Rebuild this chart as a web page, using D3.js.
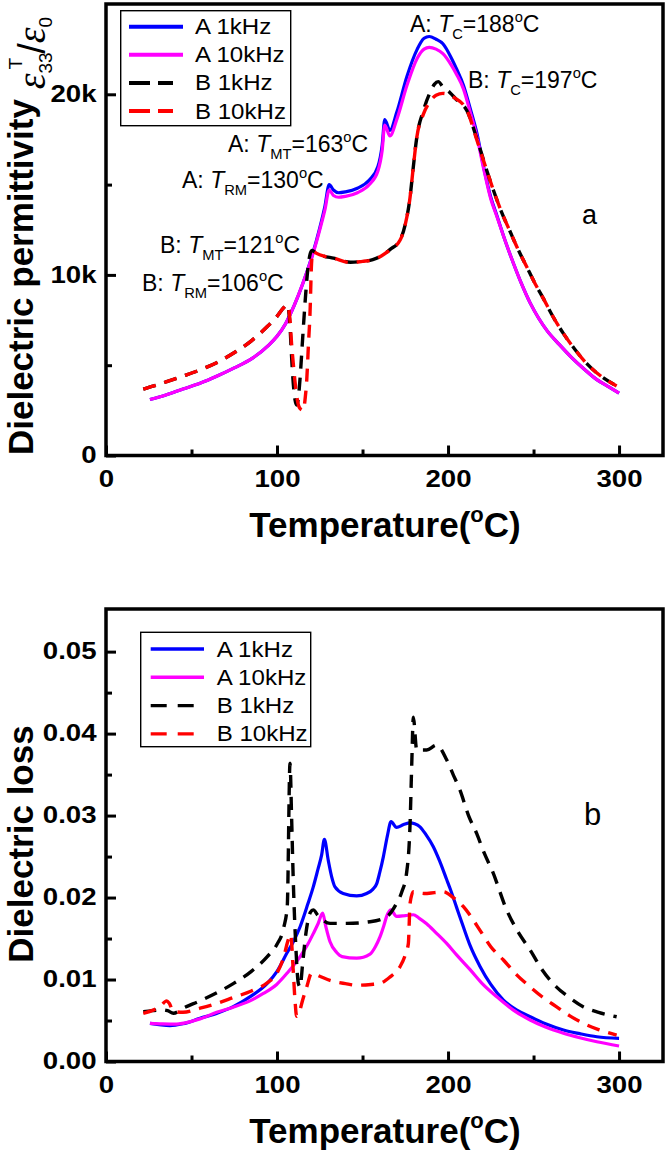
<!DOCTYPE html>
<html><head><meta charset="utf-8">
<script src="https://cdn.jsdelivr.net/npm/d3@7"></script>
<style>
body{margin:0;background:#fff}
svg{display:block}
text{font-family:"Liberation Sans",Arial,Helvetica,sans-serif;fill:#000}
</style>
</head><body>
<svg id="c" width="667" height="1152"></svg>
<script>
// ---------------- DATA ----------------
const seriesNames = ["A 1kHz", "A 10kHz", "B 1kHz", "B 10kHz"];
const xTicks = [0, 100, 200, 300];
const xMinorTicks = [50, 150, 250];
const permTicks = [0, 10000, 20000];
const permMinorTicks = [5000, 15000];
const lossTicks = [0.00, 0.01, 0.02, 0.03, 0.04, 0.05];
const lossMinorTicks = [0.005, 0.015, 0.025, 0.035, 0.045];

// (a) dielectric permittivity
const permT_A = [25.7,35,45,55,65,75,85,95,100,105,110,115,120,125,128,130.5,133,136,140,147,154,159,161.5,163,166,170,176,182,186,189,193,197,202,205,209,213,217,221,225,228.5,233,238,243,248,253,258,265,272,280,287,294,300];
const permA1k = [3100,3350,3680,4000,4400,4850,5350,6100,6600,7300,8300,9500,10900,12600,13800,15000,14700,14550,14600,14800,15250,16000,17200,18600,18000,19000,21000,22500,23100,23200,23050,22800,22000,21400,20500,19200,17800,15900,14300,13300,12000,10700,9500,8450,7600,6900,6150,5450,4750,4200,3800,3450];
const permA10k = [3100,3350,3680,4000,4400,4850,5350,6100,6600,7300,8300,9500,10850,12500,13600,14700,14400,14300,14350,14550,15000,15750,16900,18300,17700,18600,20500,22000,22500,22600,22500,22250,21600,21100,20300,19000,17600,15800,14200,13250,12000,10700,9500,8450,7600,6900,6150,5450,4750,4200,3800,3450];
const permT_B1k = [21.8,28,35.5,45,55,65,74.4,85,94.3,100,104,106,107.5,108.5,109.5,110.5,111.5,112.5,113.5,115,116.5,118,119.5,120.5,123,127,133,143,150,156,161,166,172,175,177.8,179.5,181.7,185.6,189.5,192,194.3,197,201,205,211,217,222.6,226.5,231,236.3,241,246,251,255.7,261,267.5,274,281,290,298.6];
const permB1k = [3670,3850,4090,4400,4740,5150,5660,6350,7140,7700,8200,8350,7300,5500,4000,3100,2800,3200,4300,6500,8600,10300,11200,11350,11200,11050,10930,10700,10750,10850,11050,11400,11950,12800,14300,15800,17600,19100,20100,20550,20700,20400,20100,19700,19100,17500,15800,14700,13550,12400,11400,10450,9500,8700,7750,6750,5900,5100,4350,3850];
const permT_B10k = [21.8,28,35.5,45,55,65,74.4,85,94.3,100,104,106,107.6,108.5,109.5,110.5,111.5,112.5,113.5,115.4,116.5,117.4,118.3,119.3,120.2,121,123,127,133,143,150,156,161,166,172,175,177.8,179.5,181.7,185.6,189.5,193,197,203,210.9,216.8,222.6,226.5,231,236.3,241,246,251,255.7,261,267.5,274,281,290,298.6];
const permB10k = [3670,3850,4090,4400,4740,5150,5660,6350,7140,7700,8200,8340,7500,6200,5100,4100,3300,2800,2600,2500,3200,4200,6000,7900,10650,11300,11200,11050,10930,10680,10750,10830,11050,11380,11930,12800,14300,15800,17600,18900,19600,19950,20050,19850,19140,17480,15800,14700,13550,12400,11400,10450,9500,8700,7750,6750,5900,5100,4350,3850];

// (b) dielectric loss
const lossT_A1k = [25.7,31,37.4,45,55,65,74.4,85,94.3,100,105.7,110,113.5,118,121.2,124,126.1,127.7,130,132,133.9,138.7,146.6,152.4,156,158.3,160,162.2,164.5,166.7,169.9,174,177.8,180.5,183.6,187,191.4,195,199.2,201.2,205,209,213,218.7,225,232.4,240,248,257,267.5,277,287,300];
const lossA1k = [0.00466,0.0045,0.00437,0.0046,0.00527,0.0059,0.00669,0.008,0.00953,0.011,0.0132,0.0148,0.01644,0.0192,0.0213,0.0235,0.0252,0.0271,0.0245,0.0225,0.0213,0.0205,0.0202,0.0205,0.021,0.0217,0.023,0.025,0.0275,0.02925,0.02856,0.0289,0.02912,0.029,0.02863,0.0277,0.0262,0.0245,0.0222,0.0211,0.0188,0.0164,0.0141,0.0116,0.0094,0.0075,0.0063,0.00546,0.0046,0.00384,0.0034,0.00302,0.00283];
const lossT_A10k = [25.7,33,41.3,50,55,64.7,74,84.2,92,99.8,106,113.5,118,121.2,124,126.7,128.5,131,134.9,138,146.6,154.4,157.5,160.2,162.5,164.1,166.5,169.9,175,179.7,183,187.5,193,199.2,205,212.9,220,228.5,238,248,257,267.5,277,287,300];
const lossA10k = [0.00466,0.0046,0.00457,0.0049,0.0052,0.006,0.0066,0.0074,0.0083,0.0094,0.0108,0.0128,0.0143,0.0156,0.0168,0.0181,0.0165,0.0146,0.0133,0.0128,0.0126,0.0131,0.014,0.0152,0.0166,0.0177,0.0185,0.0177,0.0178,0.0179,0.0175,0.0168,0.0157,0.0144,0.013,0.0112,0.0095,0.0079,0.0063,0.00506,0.0042,0.00344,0.0029,0.00241,0.00189];
const lossT_B1k = [21.8,27,33.5,36,39.4,45,55,65,74.4,85,94.3,100,104,106,107.6,108.5,109.5,111,112.5,113.5,115,117,119.5,121.2,124,131,140.8,154.4,164.1,169.9,173,175.7,177.8,178.8,179.7,181.7,187.5,193.3,199.2,203,207,212,216.8,221,226,234.3,241,248,255,263.3,271,279,288,298.6];
const lossB1k = [0.00607,0.0062,0.0063,0.0062,0.00588,0.0065,0.0074,0.0084,0.0095,0.011,0.0128,0.0143,0.0164,0.019,0.0364,0.03,0.0221,0.014,0.0095,0.0091,0.012,0.0158,0.0182,0.0185,0.0178,0.01685,0.01685,0.01705,0.01766,0.0193,0.0207,0.0229,0.029,0.0364,0.042,0.038,0.038,0.0386,0.0368,0.035,0.0331,0.03,0.0278,0.0255,0.0232,0.01848,0.0158,0.0136,0.0112,0.0091,0.0078,0.00669,0.006,0.00546];
const lossT_B10k = [21.8,28,31.6,35.5,37,39.4,45,55,65,74.4,85,94.3,100,104,106.5,108,109.5,110.5,111.5,113,115,117.4,120.2,125,131,140,146.6,155,160.2,166,171.9,175,176.8,177.8,179.7,186,192,197.2,203,209,214,218.7,225,232.4,240,248,255,263.3,271,279,288,298.6];
const lossB10k = [0.00588,0.0063,0.0067,0.0074,0.0071,0.0061,0.006,0.0065,0.0071,0.0078,0.0086,0.0096,0.0108,0.0128,0.0148,0.0155,0.011,0.0075,0.0055,0.006,0.0075,0.0091,0.01076,0.0104,0.0099,0.0095,0.0093,0.0094,0.00953,0.0103,0.01156,0.013,0.0144,0.0193,0.0207,0.0205,0.0206,0.0207,0.02,0.01888,0.0175,0.016,0.014,0.01238,0.0106,0.0091,0.0079,0.00669,0.0056,0.00466,0.0039,0.00323];

// ---------------- DRAWING ----------------
const svg = d3.select("#c");
const colors = ["#0000ff", "#ff00ff", "#000000", "#ff0000"];
const dashes = [null, null, "13,9", "13,9"];
const TICK_FS = 23, TICK_SX = 1.2;

function zip(xs, ys){ return xs.map((x,i)=>[x, ys[i]]); }

function panel(cfg){
  const g = svg.append("g");
  const x = d3.scaleLinear().domain([0, 325.7]).range([106, 663]);
  const y = d3.scaleLinear().domain(cfg.yDomain).range([cfg.bottom, cfg.top]);

  const xa = g.append("g").attr("transform", `translate(0,${cfg.bottom})`)
    .call(d3.axisBottom(x).tickValues(xTicks).tickSize(-10).tickPadding(15).tickFormat(d3.format("d")));
  const xm = g.append("g").attr("transform", `translate(0,${cfg.bottom})`)
    .call(d3.axisBottom(x).tickValues(xMinorTicks).tickSize(-6).tickFormat(""));
  const ya = g.append("g").attr("transform", `translate(106,0)`)
    .call(d3.axisLeft(y).tickValues(cfg.yTicks).tickSize(-10).tickPadding(9.5/TICK_SX).tickFormat(cfg.fmt));
  const ym = g.append("g").attr("transform", `translate(106,0)`)
    .call(d3.axisLeft(y).tickValues(cfg.yMinor).tickSize(-6).tickFormat(""));
  [xa,xm,ya,ym].forEach(a=>{
    a.select(".domain").remove();
    a.selectAll(".tick line").attr("stroke","#000").attr("stroke-width",3);
    a.selectAll("text").attr("font-size",TICK_FS).attr("font-weight","bold")
      .attr("font-family",'"Liberation Sans",Arial,sans-serif').attr("fill","#000")
      .attr("transform",`scale(${TICK_SX},1)`);
  });

  const line = d3.line().x(d=>x(d[0])).y(d=>y(d[1])).curve(d3.curveMonotoneX);
  cfg.series.forEach((s,i)=>{
    g.append("path").datum(s).attr("d", line).attr("fill","none")
      .attr("stroke", colors[i]).attr("stroke-width", dashes[i] ? 3.4 : 3.2)
      .attr("stroke-dasharray", dashes[i]).attr("stroke-linejoin","round");
  });

  g.append("rect").attr("x",106).attr("y",cfg.top).attr("width",663-106).attr("height",cfg.bottom-cfg.top)
    .attr("fill","none").attr("stroke","#000").attr("stroke-width",3.5);

  const L = cfg.legend;
  g.append("rect").attr("x",L.x).attr("y",L.y).attr("width",L.w).attr("height",L.h)
    .attr("fill","#fff").attr("stroke","#000").attr("stroke-width",1.4);
  seriesNames.forEach((n,i)=>{
    const cy = L.row0 + i*L.dy;
    g.append("line").attr("x1",L.lx1).attr("x2",L.lx2).attr("y1",cy).attr("y2",cy)
      .attr("stroke",colors[i]).attr("stroke-width",L.lw)
      .attr("stroke-dasharray", dashes[i] ? L.dash : null);
    g.append("text").attr("transform",`translate(${L.tx},${cy+7.5}) scale(1.12,1)`)
      .attr("font-size",21.5).text(n);
  });

  const xt = g.append("text").attr("x",385).attr("y",cfg.bottom+81).attr("text-anchor","middle")
    .attr("font-size",35).attr("font-weight","bold");
  xt.append("tspan").text("Temperature(");
  xt.append("tspan").attr("font-size",22).attr("dy",-15).text("o");
  xt.append("tspan").attr("dy",15).text("C)");
  return {g,x,y};
}

function rich(g, x, y, parts, size){
  const t = g.append("text").attr("x",x).attr("y",y).attr("font-size",size);
  let cur = 0;
  parts.forEach(p=>{
    const target = p.sub ? size*0.3 : (p.sup ? -size*0.42 : 0);
    const s = t.append("tspan").text(p.t).attr("dy", target-cur);
    cur = target;
    if (p.sub || p.sup) s.attr("font-size", size*0.64);
    if (p.i) s.attr("font-style","italic");
  });
  return t;
}
function tLabel(prefix, sub, val){
  return [{t:prefix+": "},{t:"T",i:true},{t:sub,sub:true},{t:"="+val},{t:"o",sup:true},{t:"C"}];
}

// Panel a
const pa = panel({
  top:4, bottom:455.5, yDomain:[0,25000], yTicks:permTicks, yMinor:permMinorTicks,
  fmt: d => d===0 ? "0" : (d/1000)+"k",
  series:[zip(permT_A,permA1k), zip(permT_A,permA10k), zip(permT_B1k,permB1k), zip(permT_B10k,permB10k)],
  legend:{x:120.7,y:10.7,w:170,h:115,row0:26.7,dy:28.1,lx1:129,lx2:183,tx:195,lw:4,dash:"21,8,15,10"}
});
rich(pa.g, 410, 32, tLabel("A","C","188"), 23);
rich(pa.g, 468, 88, tLabel("B","C","197"), 23);
rich(pa.g, 228, 152, tLabel("A","MT","163"), 23);
rich(pa.g, 182, 188, tLabel("A","RM","130"), 23);
rich(pa.g, 160, 253, tLabel("B","MT","121"), 23);
rich(pa.g, 142, 291, tLabel("B","RM","106"), 23);
pa.g.append("text").attr("x",582).attr("y",224).attr("font-size",27).text("a");

// y title a
const yt = pa.g.append("text").attr("transform","translate(33,236) rotate(-90)").attr("text-anchor","middle");
yt.append("tspan").attr("font-weight","bold").attr("font-size",35).text("Dielectric permittivity ");
yt.append("tspan").attr("font-family",'"Liberation Serif",serif').attr("font-style","italic").attr("font-size",40).attr("dy",12).text("ε");
yt.append("tspan").attr("font-size",19).attr("dy",7).text("33");
yt.append("tspan").attr("font-size",19).attr("dx",-17).attr("dy",-30).text("T");
yt.append("tspan").attr("font-size",38).attr("dy",23).attr("dx",4).text("/");
yt.append("tspan").attr("font-family",'"Liberation Serif",serif').attr("font-style","italic").attr("font-size",40).text("ε");
yt.append("tspan").attr("font-size",19).attr("dy",7).text("0");

// Panel b
const pb = panel({
  top:609, bottom:1061.5, yDomain:[0,0.0552], yTicks:lossTicks, yMinor:lossMinorTicks,
  fmt: d3.format(".2f"),
  series:[zip(lossT_A1k,lossA1k), zip(lossT_A10k,lossA10k), zip(lossT_B1k,lossB1k), zip(lossT_B10k,lossB10k)],
  legend:{x:140.7,y:632.3,w:170,h:114.4,row0:649,dy:28.3,lx1:150.7,lx2:204,tx:216.7,lw:3.4,dash:"16,11"}
});
pb.g.append("text").attr("x",584).attr("y",825).attr("font-size",31).text("b");
pb.g.append("text").attr("transform","translate(33,844) rotate(-90)").attr("text-anchor","middle")
  .attr("font-size",35).attr("font-weight","bold").text("Dielectric loss");
</script>
</body></html>
